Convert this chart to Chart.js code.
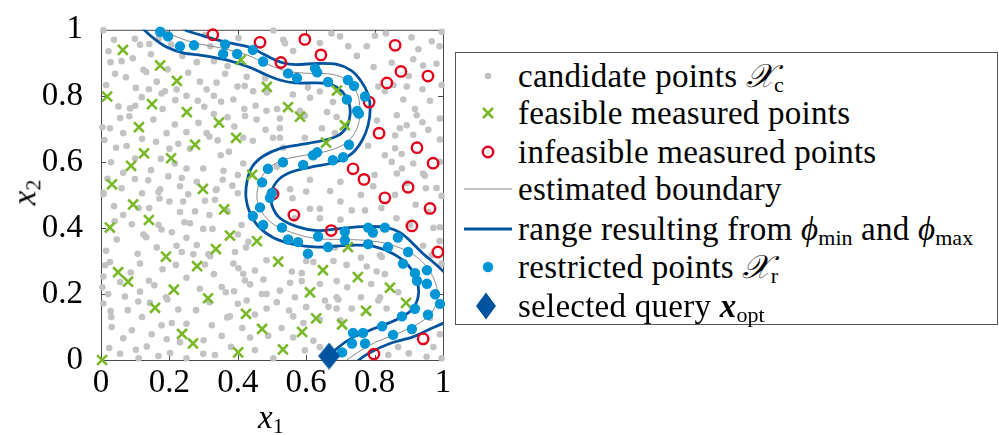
<!DOCTYPE html>
<html>
<head>
<meta charset="utf-8">
<script src="https://cdn.jsdelivr.net/npm/chart.js@4.4.1/dist/chart.umd.min.js"></script>
<style>
  html, body { margin: 0; padding: 0; background: #fff; }
  #wrap { position: relative; width: 999px; height: 435px; overflow: hidden;
          font-family: 'Liberation Serif', 'DejaVu Serif', serif; color: #000; }
  #chart { position: absolute; left: 0; top: 0; }
  .ax { position: absolute; font-size: 33px; font-style: italic; line-height: 1; white-space: nowrap; }
  .ax sub, .row sub { font-style: normal; font-size: 22px; vertical-align: -5px; line-height: 0; letter-spacing: 0; }
  #legend { position: absolute; left: 455px; top: 52px; width: 543px; height: 273px;
            border: 1px solid #555; box-sizing: border-box; background: #fff; }
  .row { position: absolute; left: 0; height: 38px; width: 540px; line-height: 38px; font-size: 33px;
         letter-spacing: 0.25px; white-space: nowrap; }
  .row svg { position: absolute; left: 4px; top: 0; }
  .row .t { position: absolute; left: 62px; top: 0; }
  .m { font-style: italic; }
</style>
</head>
<body>
<div id="wrap">
  <canvas id="chart" width="999" height="435"></canvas>
  <div class="ax" id="xlab" style="left:258px; top:401px;">x<sub>1</sub></div>
  <div class="ax" id="ylab" style="left:12px; top:176px; transform: rotate(-90deg); transform-origin: 50% 50%;">x<sub>2</sub></div>
  <div id="legend"></div>
</div>
<script>
// axis ticks
const xTicks = [0, 0.2, 0.4, 0.6, 0.8, 1];
const yTicks = [0, 0.2, 0.4, 0.6, 0.8, 1];

// candidate points X_c
const candidatePts = [
  [0.007,0.999],[0.038,0.970],[0.099,0.973],[0.114,0.955],[0.141,0.957],[0.028,0.902],[0.093,0.914],[0.146,0.926],
  [0.238,0.921],[0.280,0.902],[0.304,0.984],[0.402,0.975],[0.363,0.867],[0.124,0.879],[0.132,0.872],[0.041,0.867],
  [0.073,0.856],[0.015,0.833],[0.163,0.843],[0.102,0.824],[0.187,0.814],[0.177,0.807],[0.221,0.819],[0.289,0.843],
  [0.309,0.819],[0.338,0.840],[0.399,0.828],[0.426,0.858],[0.445,0.814],[0.480,0.853],[0.051,0.768],[0.085,0.762],
  [0.119,0.796],[0.217,0.787],[0.283,0.785],[0.302,0.767],[0.351,0.782],[0.387,0.789],[0.419,0.760],[0.452,0.770],
  [0.056,0.733],[0.083,0.738],[0.153,0.728],[0.026,0.702],[0.065,0.687],[0.216,0.713],[0.285,0.718],[0.390,0.707],
  [0.421,0.739],[0.455,0.728],[0.481,0.697],[0.010,0.666],[0.044,0.643],[0.075,0.648],[0.161,0.661],[0.192,0.687],
  [0.226,0.655],[0.309,0.687],[0.317,0.677],[0.341,0.665],[0.374,0.631],[0.416,0.673],[0.175,0.609],[0.029,0.599],
  [0.146,0.575],[0.216,0.595],[0.250,0.580],[0.299,0.580],[0.358,0.573],[0.416,0.595],[0.065,0.567],[0.099,0.548],
  [0.138,0.544],[0.197,0.556],[0.236,0.551],[0.019,0.549],[0.173,0.517],[0.231,0.526],[0.338,0.517],[0.356,0.546],
  [0.384,0.528],[0.007,0.507],[0.004,0.705],
  [0.022,0.935],[0.060,0.905],[0.170,0.975],[0.205,0.955],[0.255,0.870],[0.195,0.880],[0.330,0.905],[0.320,0.950],
  [0.370,0.890],[0.420,0.830],[0.140,0.820],[0.250,0.800],[0.330,0.800],[0.100,0.770],[0.180,0.760],[0.330,0.745],
  [0.370,0.735],[0.120,0.670],[0.250,0.690],[0.260,0.640],[0.350,0.620],[0.100,0.610],[0.200,0.640],[0.060,0.520],
  [0.120,0.505],[0.280,0.540],[0.400,0.560],[0.400,0.505],
  [0.504,0.998],[0.674,0.989],[0.699,0.980],[0.801,0.982],[0.833,0.989],[0.908,0.977],[0.996,0.994],[0.533,0.970],
  [0.562,0.936],[0.640,0.960],[0.723,0.950],[0.777,0.950],[0.928,0.941],[0.967,0.965],[0.748,0.921],[0.797,0.887],
  [0.913,0.911],[0.942,0.892],[0.981,0.897],[0.811,0.828],[0.830,0.814],[0.855,0.833],[0.894,0.828],[0.996,0.833],
  [0.611,0.794],[0.884,0.789],[0.962,0.785],[0.918,0.760],[0.484,0.755],[0.582,0.755],[0.689,0.736],[0.523,0.731],
  [0.865,0.741],[0.923,0.741],[0.991,0.731],[0.894,0.711],[0.596,0.673],[0.523,0.673],[0.874,0.702],[0.957,0.697],
  [0.913,0.682],[0.991,0.668],[0.533,0.643],[0.860,0.641],[0.879,0.624],[0.514,0.585],[0.611,0.546],[0.796,0.526],
  [0.865,0.565],[0.913,0.595],[0.942,0.565],[0.947,0.558],[0.981,0.521],[0.894,0.536],[0.670,0.512],[0.996,0.497],
  [0.538,0.959],[0.807,0.725],[0.781,0.649],[0.485,0.810],[0.515,0.760],[0.523,0.702],[0.503,0.673],[0.444,0.664],
  [0.561,0.804],[0.596,0.740],[0.646,0.702],[0.661,0.751],[0.678,0.781],[0.684,0.687],[0.605,0.825],[0.640,0.813],
  [0.850,0.900],[0.900,0.860],[0.990,0.950],[0.940,0.820],[0.860,0.680],[0.940,0.720],[0.990,0.600],[0.880,0.580],
  [0.830,0.620],[0.950,0.520],[0.860,0.500],[0.920,0.470],[0.990,0.360],
  [0.560,0.490],[0.600,0.510],[0.700,0.480],[0.760,0.500],[0.700,0.540],[0.820,0.460],[0.800,0.560],[0.850,0.600],
  [0.700,0.425],
  [0.007,0.502],[0.168,0.509],[0.255,0.502],[0.336,0.515],[0.038,0.466],[0.065,0.439],[0.141,0.460],[0.171,0.489],
  [0.200,0.480],[0.275,0.450],[0.304,0.482],[0.333,0.485],[0.317,0.439],[0.231,0.448],[0.090,0.411],[0.168,0.409],
  [0.177,0.395],[0.207,0.387],[0.244,0.417],[0.260,0.414],[0.299,0.397],[0.326,0.397],[0.411,0.409],[0.431,0.358],
  [0.046,0.365],[0.124,0.380],[0.132,0.372],[0.015,0.331],[0.107,0.322],[0.163,0.341],[0.221,0.346],[0.236,0.327],
  [0.280,0.348],[0.314,0.320],[0.319,0.314],[0.392,0.327],[0.424,0.341],[0.484,0.302],[0.026,0.297],[0.114,0.292],
  [0.219,0.288],[0.304,0.289],[0.387,0.292],[0.402,0.278],[0.450,0.271],[0.416,0.261],[0.421,0.241],[0.007,0.253],
  [0.087,0.265],[0.250,0.249],[0.056,0.236],[0.114,0.207],[0.156,0.226],[0.289,0.216],[0.353,0.221],[0.365,0.205],
  [0.389,0.208],[0.436,0.229],[0.484,0.200],[0.021,0.200],[0.070,0.192],[0.109,0.177],[0.143,0.173],[0.190,0.190],
  [0.194,0.183],[0.226,0.153],[0.278,0.151],[0.317,0.175],[0.426,0.180],[0.007,0.171],[0.028,0.148],[0.078,0.151],
  [0.177,0.105],[0.207,0.112],[0.369,0.129],[0.377,0.132],[0.413,0.097],[0.450,0.138],[0.031,0.100],[0.090,0.090],
  [0.148,0.078],[0.192,0.063],[0.231,0.054],[0.324,0.105],[0.353,0.073],[0.436,0.068],[0.065,0.066],[0.024,0.036],
  [0.056,0.019],[0.102,0.031],[0.134,0.041],[0.168,0.012],[0.202,0.021],[0.299,0.019],[0.333,0.015],[0.012,0.287],
  [0.004,0.220],
  [0.040,0.420],[0.110,0.460],[0.240,0.480],[0.370,0.450],[0.400,0.380],[0.250,0.370],[0.180,0.275],[0.330,0.260],
  [0.270,0.320],[0.140,0.240],[0.030,0.130],[0.120,0.130],[0.250,0.110],[0.300,0.060],[0.380,0.040],[0.450,0.030],
  [0.110,0.005],[0.250,0.005],[0.400,0.170],[0.470,0.200],
  [0.553,0.517],[0.611,0.458],[0.640,0.458],[0.733,0.453],[0.772,0.453],[0.567,0.429],[0.640,0.429],[0.684,0.341],
  [0.621,0.297],[0.558,0.268],[0.587,0.263],[0.718,0.288],[0.806,0.268],[0.967,0.317],[0.475,0.244],[0.553,0.234],
  [0.587,0.239],[0.689,0.239],[0.523,0.210],[0.514,0.175],[0.567,0.190],[0.655,0.180],[0.689,0.190],[0.694,0.183],
  [0.733,0.156],[0.816,0.190],[0.811,0.180],[0.484,0.156],[0.528,0.097],[0.562,0.132],[0.592,0.112],[0.640,0.122],
  [0.665,0.161],[0.489,0.073],[0.562,0.068],[0.621,0.058],[0.640,0.039],[0.504,0.005],[0.596,0.029],[0.972,0.039],
  [0.996,0.005],[0.972,0.400],[0.991,0.402],
  [0.600,0.300],[0.680,0.300],[0.760,0.310],[0.640,0.230],[0.720,0.220],[0.790,0.230],[0.550,0.150],[0.600,0.160],
  [0.700,0.120],[0.760,0.190],[0.830,0.260],[0.900,0.020],
  [0.816,0.317],[0.821,0.312],[0.777,0.283],[0.942,0.346],[0.835,0.156],[0.689,0.156],[0.991,0.078],[0.869,0.039],
  [0.840,0.015],[0.952,0.010],[0.962,0.127],[0.869,0.205],[0.904,0.409],[0.957,0.448],[0.864,0.429],[0.996,0.292]
];

// feasible measured points
const feasiblePts = [
  [0.064,0.939],[0.173,0.892],[0.222,0.845],[0.018,0.798],[0.149,0.775],[0.251,0.751],[0.111,0.705],[0.345,0.719],
  [0.395,0.673],[0.275,0.652],[0.126,0.626],[0.205,0.611],[0.088,0.588],[0.442,0.561],[0.032,0.532],[0.298,0.518],
  [0.409,0.909],[0.485,0.827],[0.690,0.816],[0.547,0.766],[0.582,0.737],[0.713,0.711],[0.658,0.658],[0.094,0.471],
  [0.360,0.456],[0.140,0.424],[0.026,0.401],[0.377,0.377],[0.456,0.360],[0.336,0.336],[0.190,0.313],[0.281,0.284],
  [0.050,0.266],[0.079,0.237],[0.213,0.213],[0.313,0.187],[0.158,0.158],[0.424,0.140],[0.471,0.094],[0.237,0.079],
  [0.269,0.050],[0.401,0.023],[0.003,0.000],[0.722,0.342],[0.518,0.298],[0.649,0.272],[0.751,0.251],[0.611,0.205],
  [0.845,0.219],[0.892,0.173],[0.775,0.149],[0.629,0.126],[0.705,0.108],[0.588,0.085],[0.532,0.032]
];

// infeasible measured points
const infeasiblePts = [
  [0.327,0.985],[0.465,0.962],[0.596,0.971],[0.526,0.901],[0.643,0.924],[0.860,0.953],[0.877,0.874],[0.956,0.860],
  [0.836,0.839],[0.784,0.781],[0.813,0.687],[0.924,0.643],[0.971,0.596],[0.737,0.579],[0.769,0.547],[0.898,0.523],
  [0.830,0.491],[0.503,0.503],[0.962,0.459],[0.564,0.439],[0.909,0.406],[0.673,0.392],[0.985,0.327],[0.942,0.064],
  [0.798,0.018]
];

// restricted points X_r
const restrictedPts = [
  [0.173,0.994],[0.196,0.980],[0.231,0.950],[0.272,0.953],[0.363,0.956],[0.357,0.927],[0.398,0.927],[0.444,0.939],
  [0.474,0.904],[0.547,0.868],[0.573,0.854],[0.626,0.883],[0.632,0.871],[0.664,0.842],[0.722,0.848],[0.740,0.830],
  [0.719,0.789],[0.772,0.798],[0.749,0.754],[0.754,0.746],[0.725,0.652],[0.708,0.614],[0.678,0.605],[0.632,0.629],
  [0.620,0.620],[0.591,0.591],[0.532,0.599],[0.488,0.579],[0.471,0.538],[0.500,0.506],[0.494,0.491],[0.465,0.462],
  [0.444,0.436],[0.474,0.409],[0.529,0.401],[0.547,0.365],[0.576,0.357],[0.605,0.322],[0.635,0.374],[0.664,0.342],
  [0.713,0.389],[0.713,0.363],[0.781,0.401],[0.795,0.386],[0.781,0.351],[0.830,0.401],[0.839,0.342],[0.868,0.371],
  [0.898,0.327],[0.883,0.292],[0.918,0.263],[0.953,0.272],[0.924,0.240],[0.953,0.231],[0.977,0.199],[0.991,0.170],
  [0.956,0.137],[0.918,0.155],[0.880,0.132],[0.909,0.094],[0.854,0.076],[0.822,0.102],[0.766,0.082],[0.737,0.082],
  [0.772,0.050],[0.734,0.050],[0.705,0.023]
];

// estimated boundary
const boundaryLine = [
  [0.158,1.023],[0.181,1.000],[0.225,0.977],[0.281,0.959],[0.354,0.944],[0.427,0.924],[0.488,0.895],[0.547,0.874],
  [0.611,0.868],[0.678,0.865],[0.722,0.845],[0.749,0.807],[0.757,0.760],[0.751,0.708],[0.722,0.661],[0.670,0.635],
  [0.596,0.620],[0.529,0.605],[0.485,0.576],[0.462,0.535],[0.456,0.488],[0.471,0.447],[0.503,0.412],[0.558,0.386],
  [0.626,0.368],[0.699,0.365],[0.766,0.363],[0.830,0.354],[0.889,0.333],[0.933,0.304],[0.965,0.263],[0.982,0.219],
  [0.982,0.175],[0.962,0.137],[0.924,0.108],[0.865,0.079],[0.801,0.053],[0.751,0.023],[0.719,0.000],[0.699,-0.018]
];

// range from phi_min / phi_max, one side
const rangeLine1 = [
  [0.108,1.023],[0.126,1.000],[0.158,0.971],[0.193,0.947],[0.240,0.930],[0.304,0.921],[0.377,0.906],[0.436,0.886],
  [0.480,0.865],[0.523,0.848],[0.567,0.839],[0.632,0.839],[0.675,0.833],[0.705,0.813],[0.725,0.778],[0.728,0.740],
  [0.716,0.702],[0.690,0.678],[0.646,0.664],[0.582,0.652],[0.523,0.640],[0.474,0.617],[0.442,0.585],[0.427,0.541],
  [0.424,0.491],[0.436,0.444],[0.459,0.406],[0.503,0.371],[0.561,0.351],[0.632,0.342],[0.690,0.345],[0.743,0.348],
  [0.795,0.345],[0.854,0.322],[0.898,0.287],[0.924,0.240],[0.927,0.190],[0.906,0.149],[0.865,0.123],[0.801,0.096],
  [0.734,0.067],[0.690,0.035],[0.658,0.000],[0.640,-0.023]
];

// range, other side (leaves through the right edge and comes back)
const rangeLine2a = [
  [0.231,1.023],[0.246,1.000],[0.289,0.985],[0.333,0.971],[0.383,0.959],[0.436,0.947],[0.474,0.927],[0.515,0.906],
  [0.561,0.895],[0.632,0.898],[0.690,0.895],[0.731,0.877],[0.760,0.845],[0.781,0.804],[0.787,0.760],[0.781,0.711],
  [0.763,0.664],[0.734,0.626],[0.684,0.599],[0.617,0.585],[0.558,0.570],[0.520,0.547],[0.497,0.506],[0.500,0.468],
  [0.523,0.430],[0.573,0.404],[0.632,0.392],[0.699,0.398],[0.766,0.404],[0.836,0.401],[0.883,0.380],[0.942,0.322],
  [0.982,0.287],[1.020,0.249]
];
const rangeLine2b = [
  [1.020,0.123],[1.000,0.111],[0.962,0.094],[0.912,0.070],[0.845,0.050],[0.787,0.023],[0.754,0.000],[0.734,-0.023]
];

// selected query x_opt
const queryPt = [[0.667, 0.012]];

const C = {
  cand: '#c3c3c3',
  feas: '#79b829',
  infeas: '#e2001a',
  restr: '#0096d6',
  range: '#00549f',
  bound: '#8a8a8a',
  query: '#00549f',
  axis: '#4a4a4a'
};

const xy = arr => arr.map(([x, y]) => ({ x, y }));

function diamond(w, h, color) {
  const c = document.createElement('canvas');
  c.width = w; c.height = h;
  const g = c.getContext('2d');
  g.fillStyle = color;
  g.beginPath();
  g.moveTo(w / 2, 0); g.lineTo(w, h / 2); g.lineTo(w / 2, h); g.lineTo(0, h / 2);
  g.closePath(); g.fill();
  return c;
}

// box around the plot with inward ticks on all four sides
const frame = {
  id: 'frame',
  beforeDatasetsDraw(chart) {
    const { ctx, chartArea: a, scales } = chart;
    ctx.save();
    ctx.strokeStyle = C.axis;
    ctx.lineWidth = 1;
    ctx.strokeRect(a.left + 0.5, a.top + 0.5, a.right - a.left, a.bottom - a.top);
    ctx.beginPath();
    xTicks.forEach(v => {
      const p = Math.round(scales.x.getPixelForValue(v)) + 0.5;
      ctx.moveTo(p, a.bottom); ctx.lineTo(p, a.bottom - 5);
      ctx.moveTo(p, a.top); ctx.lineTo(p, a.top + 5);
    });
    yTicks.forEach(v => {
      const p = Math.round(scales.y.getPixelForValue(v)) + 0.5;
      ctx.moveTo(a.left, p); ctx.lineTo(a.left + 5, p);
      ctx.moveTo(a.right, p); ctx.lineTo(a.right - 5, p);
    });
    ctx.stroke();
    ctx.restore();
  }
};

const lineDs = (data, color, width, order) => ({
  data: xy(data), showLine: true, borderColor: color, borderWidth: width,
  pointRadius: 0, fill: false, tension: 0.3, clip: 0, order
});

const tickFont = { family: 'Liberation Serif', size: 33 };
const fmt = v => String(Math.round(v * 10) / 10);

new Chart(document.getElementById('chart'), {
  type: 'scatter',
  data: {
    datasets: [
      { data: xy(queryPt), pointStyle: diamond(22, 27, C.query), clip: false, order: 0 },
      { data: xy(restrictedPts), pointRadius: 5.2, backgroundColor: C.restr, borderWidth: 0, clip: false, order: 1 },
      { data: xy(infeasiblePts), pointRadius: 5.2, backgroundColor: 'transparent', borderColor: C.infeas, borderWidth: 2.4, clip: false, order: 2 },
      { data: xy(feasiblePts), pointStyle: 'crossRot', pointRadius: 7, borderColor: C.feas, borderWidth: 2.6, clip: false, order: 3 },
      lineDs(rangeLine1, C.range, 2.8, 4),
      lineDs(rangeLine2a, C.range, 2.8, 4),
      lineDs(rangeLine2b, C.range, 2.8, 4),
      lineDs(boundaryLine, C.bound, 1, 5),
      { data: xy(candidatePts), pointRadius: 3.3, backgroundColor: C.cand, borderWidth: 0, clip: false, order: 6 }
    ]
  },
  options: {
    responsive: false,
    animation: false,
    events: [],
    layout: { padding: { left: 0, right: 556, top: 18, bottom: 0 } },
    plugins: { legend: { display: false }, tooltip: { enabled: false } },
    scales: {
      x: {
        type: 'linear', min: 0, max: 1,
        grid: { display: false }, border: { display: false },
        afterBuildTicks: s => { s.ticks = xTicks.map(v => ({ value: v })); },
        afterFit: s => { s.height = 75; },
        ticks: { font: tickFont, color: '#000', padding: -4, maxRotation: 0, callback: fmt }
      },
      y: {
        type: 'linear', min: 0, max: 1,
        grid: { display: false }, border: { display: false },
        afterBuildTicks: s => { s.ticks = yTicks.map(v => ({ value: v })); },
        afterFit: s => { s.width = 101; },
        ticks: { font: tickFont, color: '#000', padding: 10, callback: fmt }
      }
    }
  },
  plugins: [frame]
});

// legend entries
const legendRows = [
  { sym: 'cand', html: 'candidate points <span class="m">𝒳</span><sub>c</sub>' },
  { sym: 'feas', html: 'feasible measured points' },
  { sym: 'infeas', html: 'infeasible measured points' },
  { sym: 'bound', html: 'estimated boundary' },
  { sym: 'range', html: 'range resulting from <span class="m">ϕ</span><sub>min</sub> and <span class="m">ϕ</span><sub>max</sub>' },
  { sym: 'restr', html: 'restricted points <span class="m">𝒳</span><sub>r</sub>' },
  { sym: 'query', html: 'selected query <b><i>x</i></b><sub>opt</sub>' }
];
const rowCenters = [23, 60, 99, 136, 176, 214, 253];

function symbolSvg(kind) {
  const cx = 28, cy = 19;
  let s = '';
  if (kind === 'cand') s = `<circle cx="${cx}" cy="${cy}" r="3.3" fill="${C.cand}"/>`;
  if (kind === 'feas') s = `<path d="M${cx-5} ${cy-5}L${cx+5} ${cy+5}M${cx+5} ${cy-5}L${cx-5} ${cy+5}" stroke="${C.feas}" stroke-width="2.6"/>`;
  if (kind === 'infeas') s = `<circle cx="${cx}" cy="${cy}" r="5.2" fill="none" stroke="${C.infeas}" stroke-width="2.4"/>`;
  if (kind === 'bound') s = `<line x1="4" y1="${cy}" x2="52" y2="${cy}" stroke="${C.bound}" stroke-width="1.2"/>`;
  if (kind === 'range') s = `<line x1="4" y1="${cy}" x2="52" y2="${cy}" stroke="${C.range}" stroke-width="2.8"/>`;
  if (kind === 'restr') s = `<circle cx="${cx}" cy="${cy}" r="5.2" fill="${C.restr}"/>`;
  if (kind === 'query') s = `<path d="M${cx-2} ${cy-13.5}L${cx+8} ${cy}L${cx-2} ${cy+13.5}L${cx-12} ${cy}Z" fill="${C.query}"/>`;
  return `<svg width="56" height="38" viewBox="0 0 56 38">${s}</svg>`;
}

const legend = document.getElementById('legend');
legendRows.forEach((r, i) => {
  const row = document.createElement('div');
  row.className = 'row';
  row.style.top = (rowCenters[i] - 19) + 'px';
  row.innerHTML = symbolSvg(r.sym) + `<span class="t">${r.html}</span>`;
  legend.appendChild(row);
});
</script>
</body>
</html>
